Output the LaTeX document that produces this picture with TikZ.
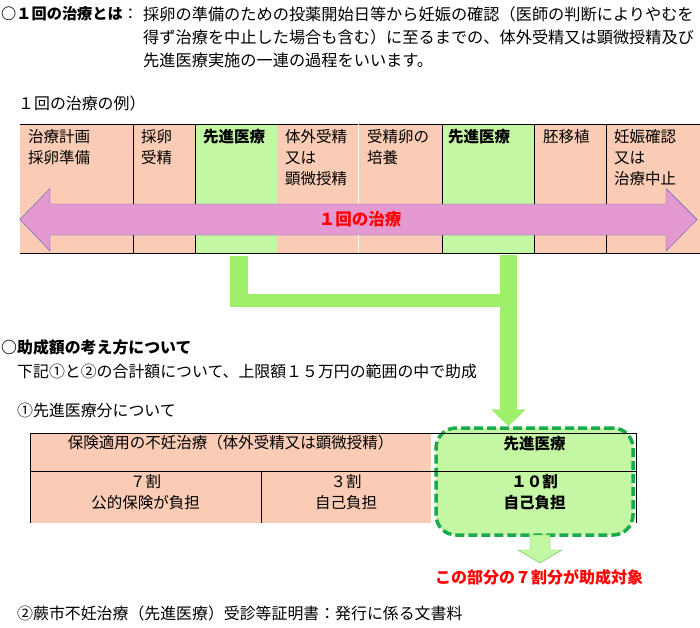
\documentclass[tikz,border=0pt]{standalone}
\usepackage{fontspec}
\setmainfont{Noto Sans CJK JP}
\usepackage{tikz}
\usetikzlibrary{arrows.meta}
\usetikzlibrary{positioning}
\tikzset{txt/.style = {inner sep = 0, anchor = west, font = \fontsize{15.9}{23}\selectfont}}
\tikzset{cell/.style = {inner sep = 0, anchor = north west, align = left, font = \fontsize{15.5}{21}\selectfont}}
\tikzset{mid/.style = {inner sep = 0, align = center, font = \fontsize{15.5}{21}\selectfont}}
\tikzset{flow/.style = {mgreen, line width = 17}}
\tikzset{advbox/.style = {fill = mlgreen, draw = mdash, line width = 3.5, dash pattern = on 9 off 4, rounded corners = 20, minimum width = 197, minimum height = 107, inner sep = 0}}
\definecolor{mpink}{rgb}{0.98, 0.8, 0.71}
\definecolor{mlgreen}{rgb}{0.77, 0.97, 0.64}
\definecolor{marrow}{rgb}{0.9, 0.6, 0.82}
\definecolor{mblue}{rgb}{0.3, 0.4, 0.7}
\definecolor{mgreen}{rgb}{0.62, 0.94, 0.42}
\definecolor{mdash}{rgb}{0.1, 0.67, 0.29}
\definecolor{mline}{rgb}{0.35, 0.78, 0.35}
\definecolor{mred}{rgb}{1, 0, 0}

\begin{document}
\begin{tikzpicture}[x = 1pt, y = -1pt]
  \useasboundingbox (0, 0) rectangle (700, 627);

  \node [txt, font = \fontsize{15.2}{23}\selectfont] (head) at (1, 14) {{\bfseries ○１回の治療とは}：};
  \node [cell, font = \fontsize{16.2}{23}\selectfont] (intro) at (143, 6.5) {採卵の準備のための投薬開始日等から妊娠の確認（医師の判断によりやむを\\得ず治療を中止した場合も含む）に至るまでの、体外受精又は顕微授精及び\\先進医療実施の一連の過程をいいます。};
  \node [txt] (ex) at (18, 103) {１回の治療の例）};

  % one course of treatment
  \foreach \a/\b/\c in {20/195/mpink, 195/277/mlgreen, 277/442/mpink, 442/534/mlgreen, 534/700/mpink}
    \fill [\c] (\a, 124) rectangle (\b, 253);
  \draw [line width = 1] (20, 124) -- (700, 124);
  \draw [line width = 1] (20, 253) -- (700, 253);
  \foreach \x in {133, 195, 442, 534, 606}
    \draw [line width = 1] (\x, 124) -- (\x, 253);
  \draw [white] (358, 124) -- (358, 253);

  \foreach \x/\t [count = \i] in {28/{治療計画\\採卵準備}, 141/{採卵\\受精}, 203/{\textbf{先進医療}}, 285/{体外受精\\又は\\顕微授精}, 367/{受精卵の\\培養}, 448/{\textbf{先進医療}}, 543/{胚移植}, 614/{妊娠確認\\又は\\治療中止}}
    \node [cell] (c\i) at (\x, 129) {\t};

  \draw [fill = marrow, draw = mblue] (20, 219.5) -- (50, 188.5) -- (50, 204) -- (666, 204) -- (666, 188.5) -- (697, 219.5)
    -- (666, 251) -- (666, 235) -- (50, 235) -- (50, 251) -- cycle;
  \node [inner sep = 0, text = mred, font = \fontsize{16.5}{16}\selectfont\bfseries] (once) at (360, 219.5) {１回の治療};

  % subsidy
  \node [txt, font = \fontsize{15.9}{23}\selectfont\bfseries] (calc) at (1, 347) {○助成額の考え方について};
  \node [txt] (sum) at (17, 371) {下記①と②の合計額について、上限額１５万円の範囲の中で助成};
  \node [txt] (part1) at (17, 410) {①先進医療分について};

  \fill [mpink] (30, 433) rectangle (431, 523);
  \node [advbox] (adv) at (534.5, 481.5) {};
  \draw [line width = 1] (30, 433) -- (636, 433);
  \draw [line width = 1] (30, 471) -- (636, 471);
  \draw [line width = 1] (30, 433) -- (30, 523);
  \draw [line width = 1] (261, 471) -- (261, 523);
  \draw [line width = 1] (636, 433) -- (636, 523);

  \node [mid] (ins) at (230.5, 443) {保険適用の不妊治療（体外受精又は顕微授精）};
  \node [mid, font = \fontsize{15.5}{21}\selectfont\bfseries] (advt) at (534.5, 444) {先進医療};
  \node [mid] (pub) at (145.5, 492.5) {７割\\公的保険が負担};
  \node [mid] (self) at (346, 492.5) {３割\\自己負担};
  \node [mid, font = \fontsize{15.5}{21}\selectfont\bfseries] (full) at (534.5, 492.5) {１０割\\自己負担};

  \coordinate (src1) at (239, 256);
  \coordinate (src2) at (508.5, 255);
  \coordinate (hbar) at (230, 300.5);
  \draw [flow, line width = 18] (src1) -- ++(0, 51);
  \draw [flow, line width = 13] (hbar) -- (hbar -| src2);
  \draw [flow, -{Triangle[length = 17pt 0, width = 34pt 0]}] (src2) -- (src2 |- adv.north);

  \coordinate (out) at (540, 535);
  \draw [fill = mlgreen, draw = mline] (out) ++(-10, 0) -- ++(20, 0) -- ++(0, 15) -- ++(12, 0) -- (540, 563)
    -- (518, 550) -- (530, 550) -- cycle;
  \node [inner sep = 0, text = mred, font = \fontsize{16}{16}\selectfont\bfseries] (note) at (539, 577) {この部分の７割分が助成対象};

  \node [txt] (part2) at (17, 613) {②蕨市不妊治療（先進医療）受診等証明書：発行に係る文書料};
\end{tikzpicture}
\end{document}
